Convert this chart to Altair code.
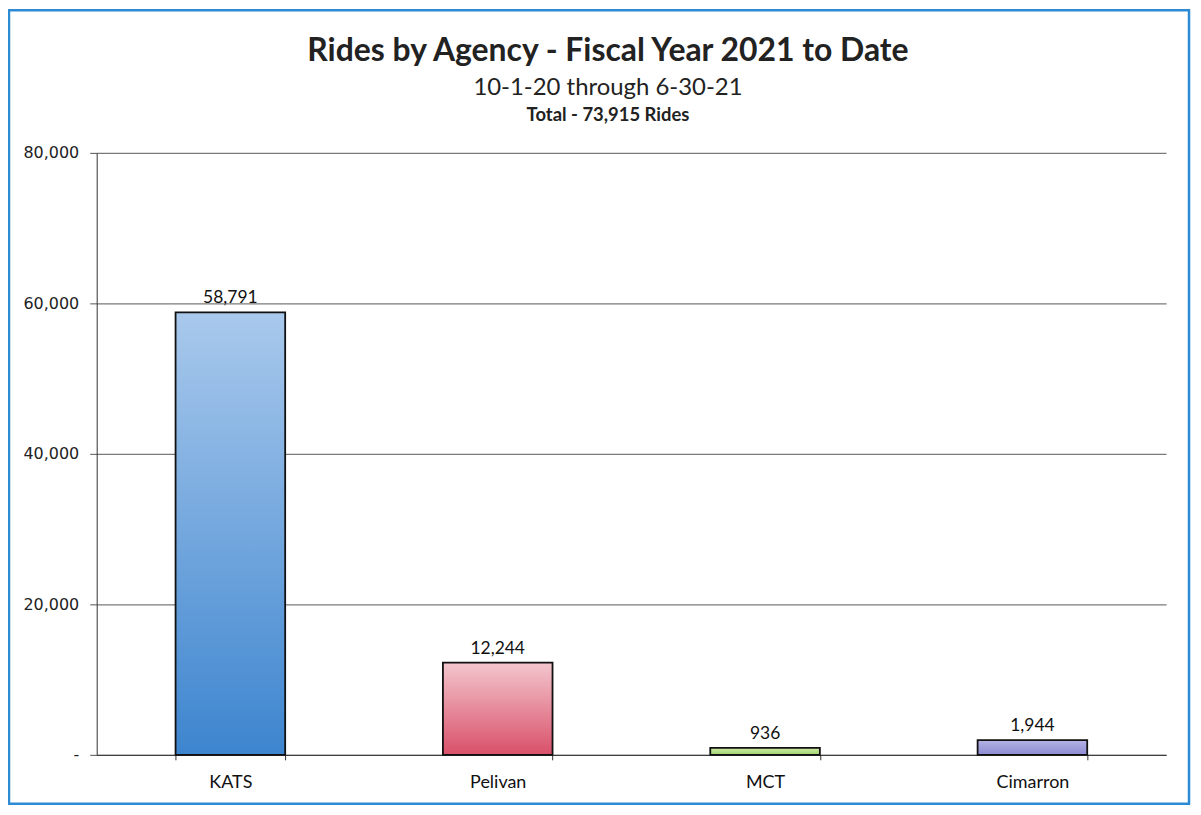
import altair as alt
import pandas as pd

agencies = ["KATS", "Pelivan", "MCT", "Cimarron"]
rides = [58791, 12244, 936, 1944]
top_colors = ["#a9c9ec", "#f3c6cd", "#cfeaa8", "#b4b3e6"]
bottom_colors = ["#3d85cf", "#d9506a", "#9ed36a", "#8d8ad2"]
title_lines = ["Rides by Agency - Fiscal Year 2021 to Date", "10-1-20 through 6-30-21", "Total - 73,915 Rides"]
y_ticks = [0, 20000, 40000, 60000, 80000]

df = pd.DataFrame({"agency": agencies, "rides": rides})

W, H = 1073, 604

x_enc = alt.X(
    "agency:N", sort=agencies, title=None,
    scale=alt.Scale(paddingInner=0.59, paddingOuter=0.295),
    axis=alt.Axis(labelAngle=0, tickBand="extent", tickSize=5, labelPadding=14,
                  labelFont="Lato", labelFontSize=18, labelColor="#111",
                  domainColor="#333", tickColor="#333", grid=False),
)
y_enc = alt.Y(
    "rides:Q", title=None,
    scale=alt.Scale(domain=[0, 80000]),
    axis=alt.Axis(values=y_ticks, tickSize=7, labelPadding=11,
                  labelExpr="datum.value == 0 ? '-' : format(datum.value, ',')",
                  labelFont="DejaVu Sans", labelFontSize=16, labelColor="#222",
                  domainColor="#333", tickColor="#555", gridColor="#7a7a7a",
                  gridWidth=1.3),
)

base = alt.Chart(df).encode(x=x_enc, y=y_enc)

layers = []
for a, c1, c2 in zip(agencies, top_colors, bottom_colors):
    grad = alt.Gradient(
        gradient="linear",
        stops=[alt.GradientStop(color=c1, offset=0), alt.GradientStop(color=c2, offset=1)],
        x1=0, x2=0, y1=0, y2=1,
    )
    layers.append(
        base.transform_filter(alt.datum.agency == a)
        .mark_bar(fill=grad, stroke="#111", strokeWidth=1.8)
    )

labels = base.mark_text(dy=-14, font="Lato", fontSize=17.5, color="#111").encode(
    text=alt.Text("rides:Q", format=",")
)

tdf = pd.DataFrame({"t": title_lines, "i": [0, 1, 2]})
t1 = alt.Chart(tdf).transform_filter(alt.datum.i == 0).mark_text(
    font="Lato", fontSize=32, fontWeight="bold", color="#222", baseline="alphabetic"
).encode(text="t:N", x=alt.value(513), y=alt.value(-92))
t2 = alt.Chart(tdf).transform_filter(alt.datum.i == 1).mark_text(
    font="Lato", fontSize=24, color="#222", baseline="alphabetic"
).encode(text="t:N", x=alt.value(513), y=alt.value(-58))
t3 = alt.Chart(tdf).transform_filter(alt.datum.i == 2).mark_text(
    font="Lato", fontSize=18.5, fontWeight="bold", color="#222", baseline="alphabetic"
).encode(text="t:N", x=alt.value(513), y=alt.value(-32))

border = alt.Chart(pd.DataFrame({"k": [0]})).mark_rect(
    fillOpacity=0, stroke="#2e8bd3", strokeWidth=2.5
).encode(x=alt.value(-88), x2=alt.value(1096), y=alt.value(-143), y2=alt.value(653))

chart = alt.layer(*layers, labels, t1, t2, t3, border).properties(
    width=W, height=H,
    autosize=alt.AutoSizeParams(type="none"),
    padding={"left": 89, "top": 144, "right": 27, "bottom": 57},
    background="white",
).configure_view(strokeOpacity=0)

chart.save("out.html", embed_options={"renderer": "svg", "actions": False})
